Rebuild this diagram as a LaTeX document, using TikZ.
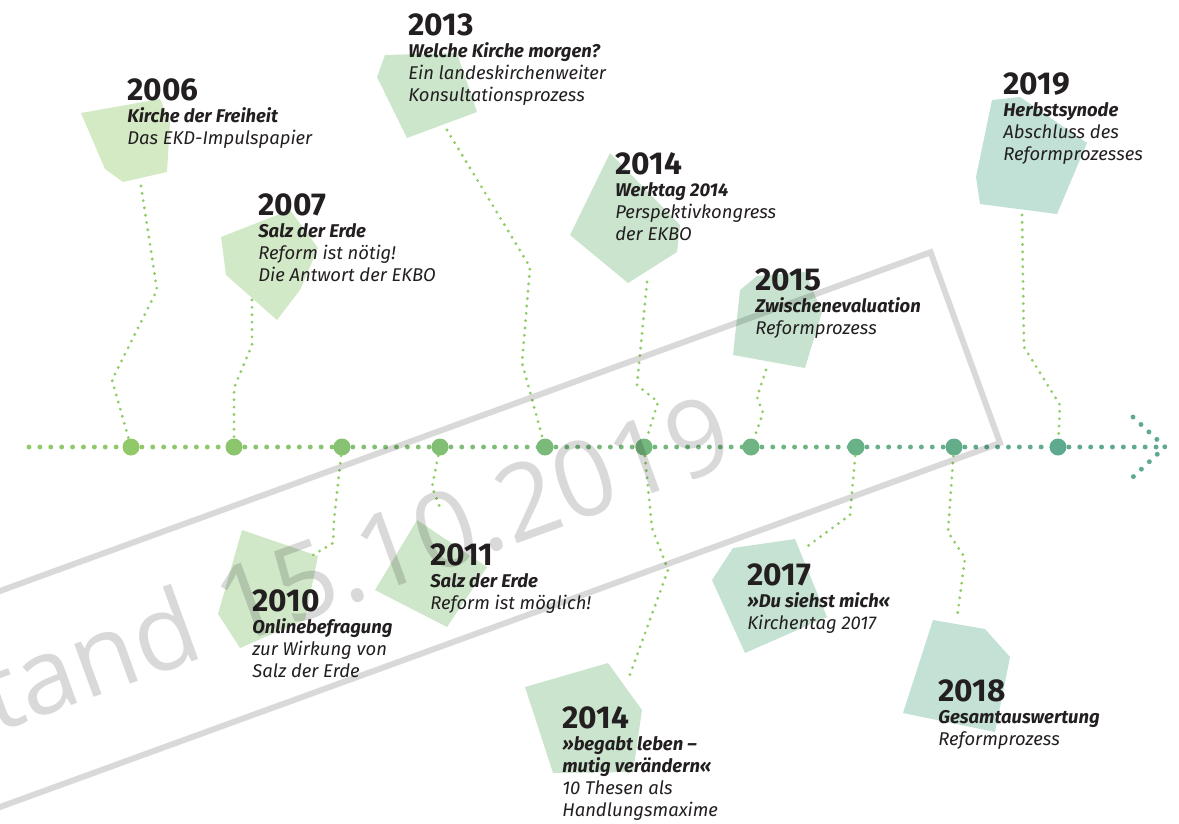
\documentclass[tikz,border=0pt]{standalone}
\usepackage{fontspec}
\setmainfont{Fira Sans}
\newfontfamily\stampfont{Open Sans}
\usetikzlibrary{positioning}
\definecolor{ink}{RGB}{35,31,32}
\definecolor{dotleft}{RGB}{146,201,104}
\definecolor{dotright}{RGB}{94,170,143}
\definecolor{patchleft}{RGB}{212,234,197}
\definecolor{patchright}{RGB}{193,224,214}
\definecolor{linkcolor}{RGB}{145,204,104}
\newcommand{\yearfont}{\fontsize{18}{12.5}\selectfont\bfseries\upshape}

\begin{document}
\begin{tikzpicture}[%
    x=0.02cm, y=-0.02cm,        % one unit per pixel, y runs downwards
    ]
\tikzset{
  patch/.style={fill=patchright!#1!patchleft},
  bead/.style={circle, inner sep=0pt, minimum size=0.34cm, fill=dotright!#1!dotleft},
  axis/.style={line width=2.8pt, line cap=round, dash pattern=on 0pt off 6.2pt, draw=dotright!#1!dotleft},
  link/.style={line width=1.8pt, line cap=round, dash pattern=on 0pt off 4.2pt, draw=linkcolor},
  event/.style={anchor=north west, inner sep=0pt, align=left, text=ink,
                font=\fontsize{10.5}{12.5}\selectfont\itshape},
}

\clip (0,0) rectangle (1179,823);

% background patches behind the labels
\fill[patch=0]   (81,113) -- (160,99) -- (170,122) -- (167,172) -- (123,182) -- (105,169) -- cycle;
\fill[patch=10]  (221,237) -- (290,210) -- (318,248) -- (300,290) -- (277,320) -- (226,275) -- cycle;
\fill[patch=40]  (377,77) -- (385,55) -- (457,53) -- (477,112) -- (407,138) -- cycle;
\fill[patch=55]  (610,153) -- (680,225) -- (677,252) -- (628,283) -- (570,235) -- cycle;
\fill[patch=67]  (740,290) -- (757,276) -- (805,272) -- (822,312) -- (805,368) -- (733,355) -- cycle;
\fill[patch=100] (992,100) -- (1020,97) -- (1087,143) -- (1057,214) -- (980,204) -- (976,177) -- cycle;
\fill[patch=15]  (242,530) -- (318,556) -- (305,620) -- (240,648) -- (218,614) -- cycle;
\fill[patch=30]  (375,590) -- (417,520) -- (487,567) -- (447,627) -- cycle;
\fill[patch=55]  (525,687) -- (608,663) -- (642,710) -- (633,772) -- (553,773) -- cycle;
\fill[patch=75]  (712,580) -- (733,548) -- (795,539) -- (827,617) -- (745,653) -- cycle;
\fill[patch=90]  (933,620) -- (985,629) -- (1010,657) -- (995,732) -- (903,713) -- cycle;

% stations on the time line
\foreach \n/\x in {2006/131, 2007/234, 2010/342, 2011/440, 2013/545,
                   2014/644, 2015/751, 2017/856, 2018/954, 2019/1058}
  \coordinate (s\n) at (\x,447);
\coordinate (tail) at (29,447);
\coordinate (tip) at (1165,447);
\coordinate (barbup) at (1133,417);
\coordinate (barbdown) at (1133,477);

% dotted time line, green on the left, teal on the right
\draw[axis=0] (tail) -- (s2006);
\foreach \a/\b/\f in {2006/2007/6, 2007/2010/17, 2010/2011/28, 2011/2013/39, 2013/2014/50,
                      2014/2015/61, 2015/2017/72, 2017/2018/84, 2018/2019/95}
  \draw[axis=\f] (s\a) -- (s\b);
\draw[axis=100] (s2019) -- (tip);
\draw[axis=100] (barbup) -- (tip) -- (barbdown);

\foreach \n/\f in {2006/0, 2007/11, 2010/23, 2011/33, 2013/45,
                   2014/55, 2015/67, 2017/78, 2018/89, 2019/100}
  \node[bead=\f] (d\n) at (s\n) {};

% loose ends of the connectors at the patches
\coordinate (p2006) at (141,186);
\coordinate (p2007) at (252,300);
\coordinate (p2013) at (447,130);
\coordinate (p2014) at (647,282);
\coordinate (p2015) at (766,370);
\coordinate (p2019) at (1022,215);
\coordinate (p2010) at (313,555);
\coordinate (p2011) at (441,510);
\coordinate (q2014) at (628,680);
\coordinate (p2017) at (805,548);
\coordinate (p2018) at (957,618);

\draw[link] (p2006) -- (157,290) -- (112,380) -- (d2006);
\draw[link] (p2007) -- (252,345) -- (234,388) -- (d2007);
\draw[link] (p2013) -- (530,267) -- (522,363) -- (d2013);
\draw[link] (p2014) -- (637,385) -- (658,402) -- (d2014);
\draw[link] (p2015) -- (757,397) -- (763,413) -- (d2015);
\draw[link] (p2019) -- (1024,347) -- (1060,405) -- (d2019);
\draw[link] (d2010) -- (334,520) -- (333,543) -- (p2010);
\draw[link] (d2011) -- (432,487) -- (p2011);
\draw[link] (d2014) -- (652,528) -- (668,570) -- (q2014);
\draw[link] (d2017) -- (850,515) -- (p2017);
\draw[link] (d2018) -- (948,532) -- (965,558) -- (p2018);

% labels above the line
\node[event] (e2006) at (127,78) {{\yearfont 2006}\\ {\bfseries Kirche der Freiheit}\\ Das EKD-Impulspapier};
\node[event] (e2007) at (258,193) {{\yearfont 2007}\\ {\bfseries Salz der Erde}\\ Reform ist nötig!\\ Die Antwort der EKBO};
\node[event] (e2013) at (408,13) {{\yearfont 2013}\\ {\bfseries Welche Kirche morgen?}\\ Ein landeskirchenweiter\\ Konsultationsprozess};
\node[event] (e2014) at (615,152) {{\yearfont 2014}\\ {\bfseries Werktag 2014}\\ Perspektivkongress\\ der EKBO};
\node[event] (e2015) at (755,268) {{\yearfont 2015}\\ {\bfseries Zwischenevaluation}\\ Reformprozess};
\node[event] (e2019) at (1003,72) {{\yearfont 2019}\\ {\bfseries Herbstsynode}\\ Abschluss des\\ Reformprozesses};

% labels below the line
\node[event] (e2010) at (252,589) {{\yearfont 2010}\\ {\bfseries Onlinebefragung}\\ zur Wirkung von\\ Salz der Erde};
\node[event] (e2011) at (430,543) {{\yearfont 2011}\\ {\bfseries Salz der Erde}\\ Reform ist möglich!};
\node[event] (f2014) at (562,706) {{\yearfont 2014}\\ {\bfseries »begabt leben –}\\ {\bfseries mutig verändern«}\\ 10 Thesen als\\ Handlungsmaxime};
\node[event] (e2017) at (747,563) {{\yearfont 2017}\\ {\bfseries »Du siehst mich«}\\ Kirchentag 2017};
\node[event] (e2018) at (938,679) {{\yearfont 2018}\\ {\bfseries Gesamtauswertung}\\ Reformprozess};

% date stamp laid over everything
\begin{scope}[shift={(1000,443)}, rotate=20, black, opacity=0.15]
  \draw[line width=3.4pt] (-1300,0) rectangle (0,-203);
  \node[anchor=base east, transform shape, inner sep=0pt,
        font=\stampfont\fontsize{60}{60}\selectfont] (stamp) at (-252,-71) {Stand 15.10.2019};
\end{scope}

\end{tikzpicture}
\end{document}
